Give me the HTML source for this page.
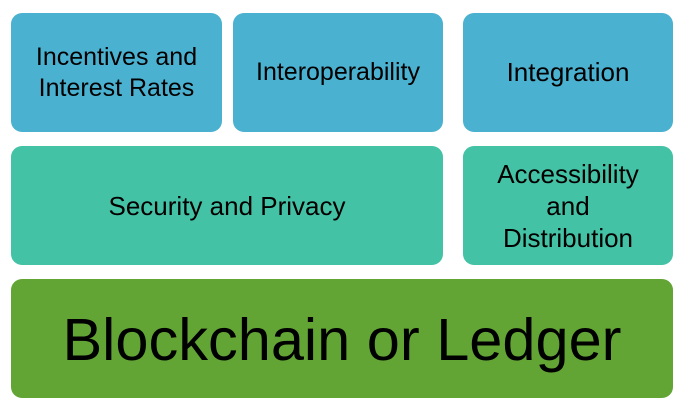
<!DOCTYPE html>
<html><head><style>
html,body{margin:0;padding:0;background:#fff;}
body{width:682px;height:409px;position:relative;overflow:hidden;font-family:"Liberation Sans",sans-serif;}
.b{position:absolute;border-radius:11px;display:flex;align-items:center;justify-content:center;text-align:center;color:#000;font-size:26px;line-height:31px;}
.bl{background:#4BB1D0;}
.tl{background:#44C2A5;}
.gr{background:#62A535;}
</style></head><body>
<div class="b bl" style="left:11px;top:13px;width:211px;height:119px;font-size:25px;">Incentives and<br>Interest Rates</div>
<div class="b bl" style="left:233px;top:13px;width:210px;height:119px;font-size:25px;">Interoperability</div>
<div class="b bl" style="left:463px;top:13px;width:210px;height:119px;">Integration</div>
<div class="b tl" style="left:11px;top:146px;width:432px;height:119px;padding-top:2px;box-sizing:border-box;">Security and Privacy</div>
<div class="b tl" style="left:463px;top:146px;width:210px;height:119px;line-height:32px;font-size:26px;">Accessibility<br>and<br>Distribution</div>
<div class="b gr" style="left:11px;top:279px;width:662px;height:119px;font-size:59.5px;line-height:64px;padding-top:2px;box-sizing:border-box;">Blockchain or Ledger</div>
</body></html>
